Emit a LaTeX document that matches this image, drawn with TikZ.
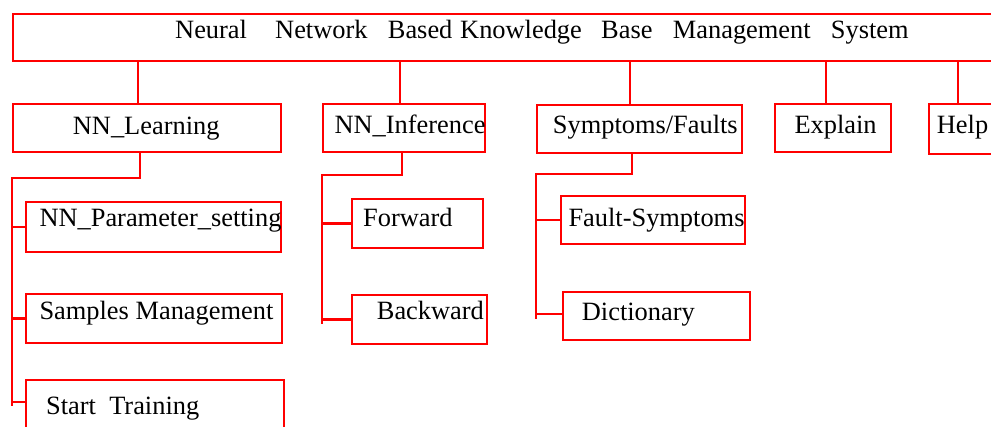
\documentclass[tikz,border=0pt]{standalone}
\usepackage{fontspec}
\setmainfont{Liberation Serif}
\begin{document}
\begin{tikzpicture}[x=1pt,y=-1pt,
  box/.style={draw=red, line width=2.4pt, rectangle, inner sep=0pt, anchor=north west},
  link/.style={draw=red, line width=2.4pt},
  lbl/.style={anchor=base west, inner sep=0pt, font=\fontsize{26.4}{30}\selectfont}]
\useasboundingbox (0,0) rectangle (991,427);
\clip (0,0) rectangle (991,427);

% boxes
\node[box, minimum width=989, minimum height=47] (top) at (12,13) {};
\node[box, minimum width=268, minimum height=48] (learn) at (12,103) {};
\node[box, minimum width=162, minimum height=48] (infer) at (322,103) {};
\node[box, minimum width=205, minimum height=48] (symp) at (536,104) {};
\node[box, minimum width=116, minimum height=48] (expl) at (774,103) {};
\node[box, minimum width=73, minimum height=50] (help) at (928,103) {};
\node[box, minimum width=255, minimum height=50] (param) at (25,201) {};
\node[box, minimum width=256, minimum height=49] (samples) at (25,293) {};
\node[box, minimum width=258, minimum height=61] (train) at (25,379) {};
\node[box, minimum width=131, minimum height=49] (fwd) at (351,198) {};
\node[box, minimum width=135, minimum height=49] (bwd) at (351,294) {};
\node[box, minimum width=184, minimum height=48] (fs) at (560,195) {};
\node[box, minimum width=187, minimum height=48] (dict) at (562,291) {};

% labels
\node[lbl] (ttop) at (175,38.3) {\makebox[100pt][l]{Neural}\makebox[112.7pt][l]{Network}\makebox[72.3pt][l]{Based}\makebox[141pt][l]{Knowledge}\makebox[71.7pt][l]{Base}\makebox[158pt][l]{Management}System};
\node[lbl] (tlearn) at (72.7,135) {NN\_Learning};
\node[lbl] (tinfer) at (334.3,134) {NN\_Inference};
\node[lbl] (tsymp) at (552.7,134) {Symptoms/Faults};
\node[lbl] (texpl) at (794.3,134) {Explain};
\node[lbl] (thelp) at (936.7,134) {Help};
\node[lbl] (tparam) at (39.3,226.7) {NN\_Parameter\_setting};
\node[lbl] (tsamples) at (39.3,320) {Samples Management};
\node[lbl] (ttrain) at (46,414.3) {Start\ \ Training};
\node[lbl] (tfwd) at (363,226.7) {Forward};
\node[lbl] (tbwd) at (376.7,320) {Backward};
\node[lbl] (tfs) at (568.3,226.7) {Fault-Symptoms};
\node[lbl] (tdict) at (581.7,320.7) {Dictionary};

% links from the main bar
\draw[link] (top.south -| 138,0) -- (learn.north -| 138,0);
\draw[link] (top.south -| 400,0) -- (infer.north -| 400,0);
\draw[link] (top.south -| 630,0) -- (symp.north -| 630,0);
\draw[link] (top.south -| 826,0) -- (expl.north -| 826,0);
\draw[link] (top.south -| 958,0) -- (help.north -| 958,0);

% learning branch
\coordinate (lbus) at (12,178);
\coordinate (lend) at (12,406);
\draw[link] (learn.south -| 140,0) |- (lbus) -- (lend);
\draw[link] (param.west -| lbus) -- (param.west);
\draw[link] (samples.west -| lbus) -- (samples.west);
\draw[link] ([yshift=-23pt]train.north west -| lbus) -- ([yshift=-23pt]train.north west);

% inference branch
\coordinate (ibus) at (322,175);
\coordinate (iend) at (322,324);
\draw[link] (infer.south -| 402,0) |- (ibus) -- (iend);
\draw[link] (fwd.west -| ibus) -- (fwd.west);
\draw[link] (bwd.west -| ibus) -- (bwd.west);

% symptoms branch
\coordinate (sbus) at (536,174);
\coordinate (send) at (536,319);
\draw[link] (symp.south -| 632,0) |- (sbus) -- (send);
\draw[link] (fs.west -| sbus) -- (fs.west);
\draw[link] ([yshift=2pt]dict.west -| sbus) -- ([yshift=2pt]dict.west);
\end{tikzpicture}
\end{document}
